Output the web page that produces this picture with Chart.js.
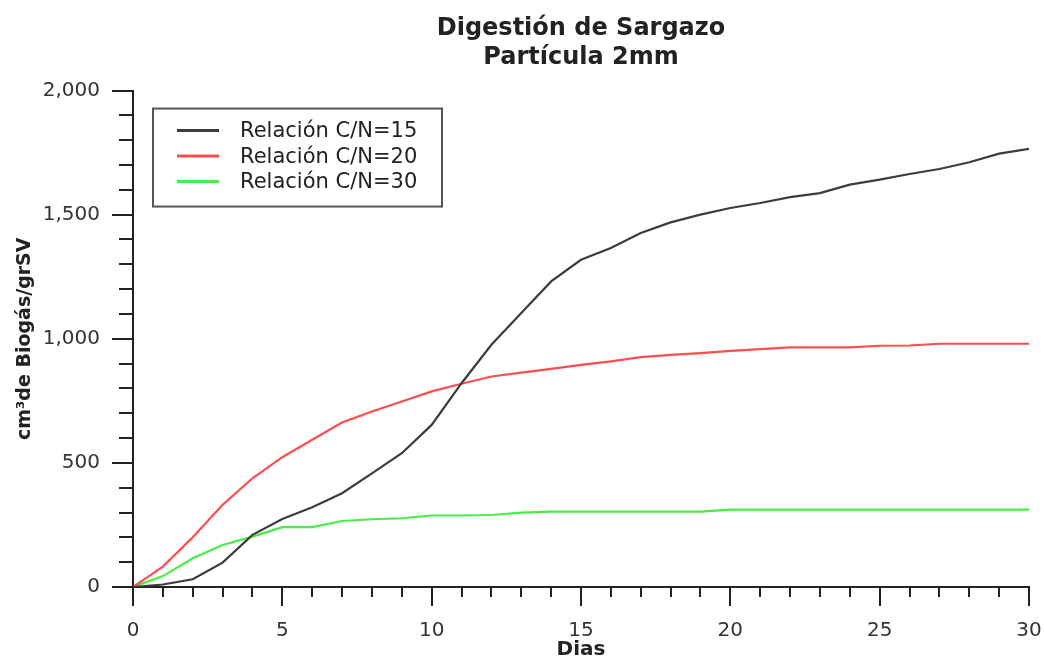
<!DOCTYPE html>
<html>
<head>
<meta charset="utf-8">
<script src="https://cdn.jsdelivr.net/npm/chart.js@4.4.0/dist/chart.umd.min.js"></script>
<style>
html, body { margin: 0; padding: 0; background: #fff; }
#wrap { width: 1044px; height: 660px; }
</style>
</head>
<body>
<div id="wrap"><canvas id="myChart"></canvas></div>
<script>
// days 0..30
const dias = [0, 1, 2, 3, 4, 5, 6, 7, 8, 9, 10, 11, 12, 13, 14, 15, 16, 17, 18, 19, 20, 21, 22, 23, 24, 25, 26, 27, 28, 29, 30];

const cn15 = [0, 10, 31, 98, 210, 274, 321, 378, 458, 539, 653, 821, 976, 1104, 1231, 1318, 1366, 1426, 1469, 1500, 1527, 1547, 1571, 1587, 1621, 1641, 1664, 1684, 1711, 1746, 1765];
const cn20 = [0, 82, 200, 331, 438, 523, 593, 663, 707, 747, 788, 819, 848, 864, 879, 895, 909, 926, 935, 942, 951, 958, 965, 965, 965, 972, 973, 980, 980, 980, 980];
const cn30 = [0, 44, 116, 169, 203, 241, 241, 266, 273, 277, 288, 288, 290, 300, 304, 304, 304, 304, 304, 304, 312, 312, 312, 312, 312, 312, 312, 312, 312, 312, 312];

const seriesLabels = ["Relación C/N=15", "Relación C/N=20", "Relación C/N=30"];
const yMajor = [0, 500, 1000, 1500, 2000];
const xMajor = [0, 5, 10, 15, 20, 25, 30];

function pts(vals) {
    return dias.map((d, i) => ({ x: d, y: vals[i] }));
}

// title centred over the plot, not the whole canvas
const centerTitle = {
    id: 'centerTitle',
    afterLayout(chart) {
        const t = chart.titleBlock;
        if (t) {
            t.left = chart.chartArea.left;
            t.right = chart.chartArea.right;
        }
    }
};

// long ticks on labelled values, short ones between
const tickMarks = {
    id: 'tickMarks',
    afterDraw(chart) {
        const ctx = chart.ctx;
        const xs = chart.scales.x, ys = chart.scales.y;
        ctx.save();
        ctx.strokeStyle = '#222';
        ctx.lineWidth = 2;
        ctx.beginPath();
        ys.ticks.forEach(t => {
            const py = Math.round(ys.getPixelForValue(t.value));
            const len = yMajor.includes(t.value) ? 21 : 14;
            ctx.moveTo(ys.right - len, py);
            ctx.lineTo(ys.right, py);
        });
        xs.ticks.forEach(t => {
            const px = Math.round(xs.getPixelForValue(t.value));
            const len = xMajor.includes(t.value) ? 19 : 10;
            ctx.moveTo(px, xs.top);
            ctx.lineTo(px, xs.top + len);
        });
        ctx.stroke();
        ctx.restore();
    }
};

// boxed legend inside the plot area
const boxLegend = {
    id: 'boxLegend',
    afterDraw(chart) {
        const ctx = chart.ctx, area = chart.chartArea;
        const left = area.left + 20, top = area.top + 18, w = 289, h = 98;
        ctx.save();
        ctx.fillStyle = '#fff';
        ctx.fillRect(left, top, w, h);
        ctx.strokeStyle = '#555';
        ctx.lineWidth = 2;
        ctx.strokeRect(left, top, w, h);
        ctx.font = '21px "DejaVu Sans"';
        ctx.textBaseline = 'middle';
        chart.data.datasets.forEach((ds, i) => {
            const y = top + 22 + i * 25.5;
            ctx.strokeStyle = ds.borderColor;
            ctx.lineWidth = 3;
            ctx.beginPath();
            ctx.moveTo(left + 24, y);
            ctx.lineTo(left + 66, y);
            ctx.stroke();
            ctx.fillStyle = '#222';
            ctx.fillText(ds.label, left + 87, y + 1);
        });
        ctx.restore();
    }
};

const data = {
    datasets: [
        { label: seriesLabels[0], data: pts(cn15), borderColor: '#3c3c3c' },
        { label: seriesLabels[1], data: pts(cn20), borderColor: '#ff4c4c' },
        { label: seriesLabels[2], data: pts(cn30), borderColor: '#46ee46' }
    ]
};

const config = {
    type: 'line',
    data: data,
    plugins: [centerTitle, tickMarks, boxLegend],
    options: {
        responsive: true,
        maintainAspectRatio: false,
        animation: false,
        layout: {
            padding: { left: 0, right: 15, top: 0, bottom: 0 }
        },
        elements: {
            line: { borderWidth: 2.2, tension: 0 },
            point: { radius: 0 }
        },
        plugins: {
            legend: { display: false },
            tooltip: { enabled: false },
            title: {
                display: true,
                text: ['Digestión de Sargazo', 'Partícula 2mm'],
                color: '#222',
                font: { family: 'DejaVu Sans', size: 24, weight: 'bold', lineHeight: 1.22 },
                padding: { top: 14, bottom: 18 }
            }
        },
        scales: {
            x: {
                type: 'linear',
                min: 0,
                max: 30,
                grid: { drawOnChartArea: false, drawTicks: false },
                border: { color: '#222', width: 2 },
                ticks: {
                    stepSize: 1,
                    autoSkip: false,
                    maxRotation: 0,
                    padding: 32,
                    color: '#333',
                    font: { family: 'DejaVu Sans', size: 20 },
                    callback: v => xMajor.includes(v) ? String(v) : ''
                },
                title: {
                    display: true,
                    text: 'Dias',
                    color: '#222',
                    font: { family: 'DejaVu Sans', size: 20, weight: 'bold', lineHeight: 1 },
                    padding: { top: -1, bottom: 0 }
                },
                afterFit: s => {
                    s.height = 73;
                    s.paddingLeft = 0;
                    s.paddingRight = 0;
                }
            },
            y: {
                min: 0,
                max: 2000,
                grid: { drawOnChartArea: false, drawTicks: false },
                border: { color: '#222', width: 2 },
                ticks: {
                    stepSize: 100,
                    autoSkip: false,
                    padding: 33,
                    color: '#333',
                    font: { family: 'DejaVu Sans', size: 20 },
                    callback: v => yMajor.includes(v) ? v.toLocaleString('en-US') : ''
                },
                title: {
                    display: true,
                    text: 'cm³de Biogás/grSV',
                    color: '#222',
                    font: { family: 'DejaVu Sans', size: 19, weight: 'bold' },
                    padding: { top: 14, bottom: 0 }
                },
                afterFit: s => {
                    s.width = 133;
                    s.paddingTop = 0;
                    s.paddingBottom = 0;
                }
            }
        }
    }
};

const myChart = new Chart(
    document.getElementById('myChart'),
    config
);
</script>
</body>
</html>
